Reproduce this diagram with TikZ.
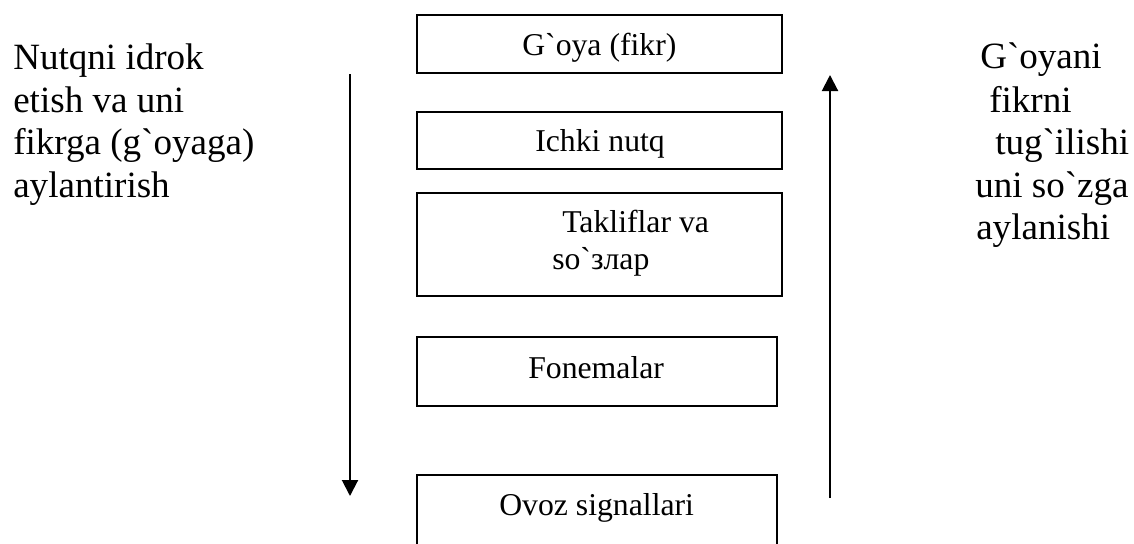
\documentclass[tikz,border=0pt]{standalone}
\usepackage{fontspec}
\setmainfont{Liberation Serif}
\usepackage{tikz}
\usetikzlibrary{arrows.meta,fit}

\newcommand{\grv}{\textasciigrave}

\begin{document}
\begin{tikzpicture}[x=0.75pt,y=0.75pt,yscale=-1,xscale=1,
        blok/.style={draw, line width=1.5pt, inner sep=0pt},
        qutimatn/.style={anchor=base west, inner sep=0pt, font=\fontsize{23.8}{27}\selectfont},
        yonmatn/.style={anchor=base west, inner sep=0pt, font=\fontsize{27.8}{32}\selectfont},
        strelka/.style={line width=1.5pt, -{Triangle[length=12pt,width=12pt]}}]
        \useasboundingbox (0,0) rectangle (1134,543);
        \clip (0,0) rectangle (1134,543);

        %Shape: Rectangle
        \node [blok, fit={(417,15) (782,73)}] (goya) {};
        %Shape: Rectangle
        \node [blok, fit={(417,112) (782,169)}] (ichki) {};
        %Shape: Rectangle
        \node [blok, fit={(417,193) (782,296)}] (taklif) {};
        %Shape: Rectangle
        \node [blok, fit={(417,337) (777,406)}] (fonema) {};
        %Shape: Rectangle (bottom below the page)
        \node [blok, fit={(417,475) (777,570)}] (ovoz) {};

        %Straight Lines
        \coordinate (chapbosh) at (350,74);
        \coordinate (chapoxir) at (350,496);
        \draw [strelka] (chapbosh) -- (chapoxir);
        %Straight Lines
        \coordinate (ongbosh) at (830,498);
        \coordinate (ongoxir) at (830,75);
        \draw [strelka] (ongbosh) -- (ongoxir);

        % Text Node
        \node [qutimatn] (goyamatn) at (522,55) {G\grv oya (fikr)};
        % Text Node
        \node [qutimatn] (ichkimatn) at (535,151) {Ichki nutq};
        % Text Node
        \node [qutimatn] (taklifmatn) at (562,232) {Takliflar va};
        % Text Node
        \node [qutimatn] (sozmatn) at (552,269) {so\grv злар};
        % Text Node
        \node [qutimatn] (fonemamatn) at (528,378) {Fonemalar};
        % Text Node
        \node [qutimatn] (ovozmatn) at (499,515) {Ovoz signallari};

        % Text Node
        \node [yonmatn] (chap1) at (13,69) {Nutqni idrok};
        % Text Node
        \node [yonmatn] (chap2) at (13,112) {etish va uni};
        % Text Node
        \node [yonmatn] (chap3) at (13,154) {fikrga (g\grv oyaga)};
        % Text Node
        \node [yonmatn] (chap4) at (13,197) {aylantirish};

        % Text Node
        \node [yonmatn] (ong1) at (980,68) {G\grv oyani};
        % Text Node
        \node [yonmatn] (ong2) at (989,112) {fikrni};
        % Text Node
        \node [yonmatn] (ong3) at (995,154) {tug\grv ilishi};
        % Text Node
        \node [yonmatn] (ong4) at (975,197) {uni so\grv zga};
        % Text Node
        \node [yonmatn] (ong5) at (976,239) {aylanishi};

\end{tikzpicture}
\end{document}
